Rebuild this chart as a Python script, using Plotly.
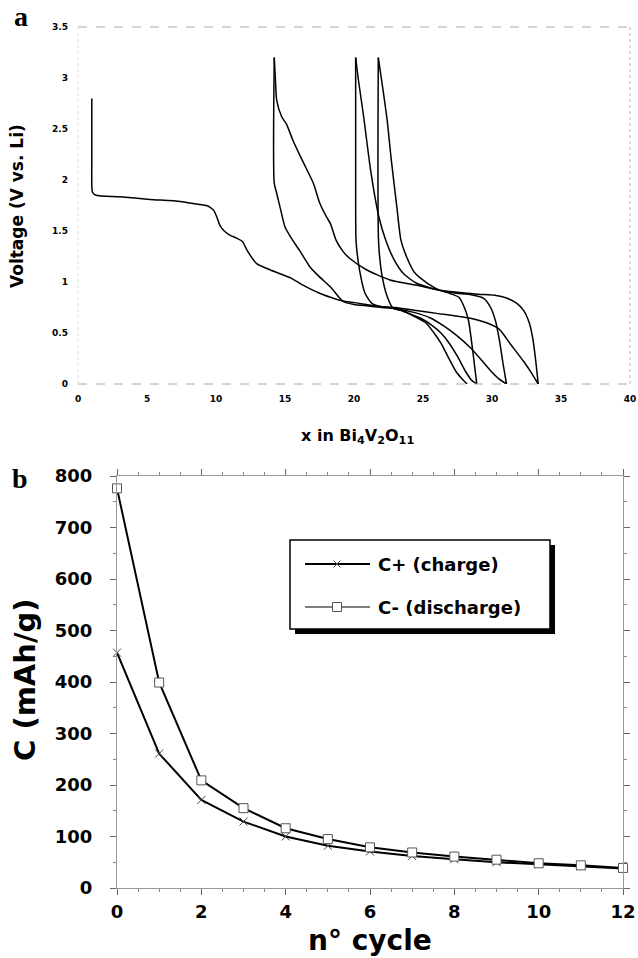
import plotly.graph_objects as go

W, H = 638, 958

# ---------------- Panel a: voltage profiles (x in Bi4V2O11 vs V) ----------------
d1_x = [1.0, 1.0, 1.0, 1.05, 1.3, 3.0, 5.2, 7.4, 8.8, 9.3, 9.6, 9.85, 10.05, 10.3, 10.6,
        11.0, 11.5, 11.9, 12.3, 12.95, 13.9, 15.4, 16.3, 17.5, 18.3, 19.0, 20.4, 21.9,
        23.0, 24.5, 26.1, 27.5, 28.6, 29.6, 30.5, 31.4, 32.3, 32.9, 33.35]
d1_v = [2.80, 2.2, 1.95, 1.88, 1.85, 1.835, 1.81, 1.79, 1.76, 1.75, 1.73, 1.70, 1.64, 1.55, 1.50,
        1.46, 1.43, 1.40, 1.30, 1.18, 1.12, 1.04, 0.97, 0.89, 0.85, 0.82, 0.79, 0.76,
        0.75, 0.72, 0.69, 0.665, 0.64, 0.60, 0.54, 0.38, 0.22, 0.10, 0.0]

c1_x = [33.35, 33.15, 32.95, 32.7, 32.3, 31.8, 31.1, 30.2, 29.0, 27.5, 26.2, 24.5, 22.6,
        20.9, 19.7, 19.2, 18.7, 18.3, 18.0, 17.5, 17.05, 16.3, 15.6, 15.1, 14.76, 14.4, 14.3, 14.22]
c1_v = [0.0, 0.25, 0.45, 0.60, 0.72, 0.79, 0.84, 0.87, 0.88, 0.90, 0.92, 0.97, 1.02,
        1.12, 1.23, 1.30, 1.41, 1.57, 1.64, 1.78, 1.97, 2.18, 2.38, 2.55, 2.62, 2.78, 3.0, 3.2]

d2_x = [14.22, 14.22, 14.4, 14.7, 15.0, 15.6, 16.1, 16.8, 17.5, 18.3, 19.2, 20.0, 21.0, 22.0,
        23.0, 24.4, 25.5, 26.5, 27.5, 28.4, 29.2, 29.9, 30.5, 31.05]
d2_v = [3.2, 1.97, 1.87, 1.70, 1.54, 1.40, 1.30, 1.15, 1.05, 0.95, 0.81, 0.78, 0.765, 0.75,
        0.74, 0.70, 0.65, 0.57, 0.47, 0.36, 0.24, 0.13, 0.05, 0.0]

c2_x = [31.05, 30.8, 30.55, 30.25, 29.9, 29.4, 28.5, 27.4, 26.5, 25.6, 24.5, 23.6, 22.9,
        22.3, 21.8, 21.2, 20.7, 20.3, 20.12]
c2_v = [0.0, 0.20, 0.42, 0.62, 0.75, 0.84, 0.875, 0.89, 0.91, 0.94, 0.99, 1.08, 1.22,
        1.41, 1.64, 2.10, 2.62, 3.0, 3.2]

d3_x = [20.12, 20.12, 20.15, 20.4, 20.8, 21.3, 21.9, 23.0, 24.0, 24.9, 25.6, 26.3, 26.9,
        27.5, 28.1, 28.5, 28.9]
d3_v = [3.2, 1.8, 1.4, 1.12, 0.89, 0.79, 0.76, 0.74, 0.69, 0.64, 0.58, 0.50, 0.40,
        0.27, 0.12, 0.04, 0.0]

c3_x = [28.9, 28.6, 28.3, 28.0, 27.6, 27.0, 26.2, 25.3, 24.4, 23.8, 23.4, 23.1, 22.7,
        22.4, 22.0, 21.76]
c3_v = [0.0, 0.33, 0.62, 0.75, 0.85, 0.885, 0.92, 0.99, 1.09, 1.25, 1.41, 1.74, 2.20,
        2.59, 2.98, 3.2]

d4_x = [21.76, 21.78, 22.0, 22.4, 22.85, 23.5, 24.4, 25.2, 25.8, 26.3, 26.8, 27.4, 27.9, 28.2]
d4_v = [3.2, 1.4, 1.09, 0.86, 0.74, 0.72, 0.66, 0.60, 0.50, 0.40, 0.27, 0.12, 0.04, 0.0]

curves = [(d1_x, d1_v), (c1_x, c1_v), (d2_x, d2_v), (c2_x, c2_v),
          (d3_x, d3_v), (c3_x, c3_v), (d4_x, d4_v)]

# ---------------- Panel b: capacity vs cycle ----------------
cycles = list(range(13))
c_plus = [457, 261, 171, 129, 100, 82, 71, 62, 56, 50, 46, 42, 38]
c_minus = [776, 399, 209, 155, 116, 95, 79, 69, 61, 55, 48, 44, 39]

legend_labels = ["C+ (charge)", "C- (discharge)"]

fig = go.Figure()

for cx, cv in curves:
    fig.add_trace(go.Scatter(x=cx, y=cv, mode="lines", xaxis="x", yaxis="y",
                             line=dict(color="black", width=1.5, shape="spline", smoothing=0.6),
                             showlegend=False, hoverinfo="skip"))

fig.add_trace(go.Scatter(x=cycles, y=c_plus, mode="lines+markers", xaxis="x2", yaxis="y2",
                         name=legend_labels[0], cliponaxis=False,
                         line=dict(color="black", width=2),
                         marker=dict(symbol="x-thin-open", size=8, color="#444",
                                     line=dict(color="#444", width=1)),
                         showlegend=False))
fig.add_trace(go.Scatter(x=cycles, y=c_minus, mode="lines+markers", xaxis="x2", yaxis="y2",
                         name=legend_labels[1], cliponaxis=False,
                         line=dict(color="black", width=2),
                         marker=dict(symbol="square", size=9, color="white",
                                     line=dict(color="#555", width=1)),
                         showlegend=False))


def fx(p):
    return p / W


def fy(p):
    return 1 - p / H


sans = "DejaVu Sans"
tick_a = dict(family=sans, size=9, color="black", weight="bold")
tick_b = dict(family=sans, size=18, color="black", weight="bold")

common_b = dict(showgrid=False, zeroline=False, showline=True, linecolor="#999", linewidth=1,
                mirror="allticks", ticks="outside", ticklen=6, tickcolor="#666", tickwidth=1,
                tickfont=tick_b, automargin=False, layer="above traces")

fig.update_layout(
    width=W, height=H,
    autosize=False,
    margin=dict(l=0, r=0, t=0, b=0, pad=0, autoexpand=False),
    paper_bgcolor="white", plot_bgcolor="white",
    showlegend=False,
    xaxis=dict(domain=[fx(78), fx(630)], range=[0, 40], dtick=5, tick0=0,
               showgrid=False, zeroline=False, showline=False, ticks="",
               tickfont=tick_a, ticklabelstandoff=8, anchor="y", automargin=False),
    yaxis=dict(domain=[fy(384), fy(27)], range=[0, 3.5], dtick=0.5, tick0=0,
               showgrid=False, zeroline=False, showline=False, ticks="",
               tickfont=tick_a, ticklabelstandoff=9, anchor="x", automargin=False),
    xaxis2=dict(domain=[fx(117), fx(623)], range=[0, 12], dtick=2, tick0=0,
                minor=dict(dtick=0.5, ticks="outside", ticklen=3, tickcolor="#888", tickwidth=1),
                ticklabelstandoff=1, anchor="y2", **common_b),
    yaxis2=dict(domain=[fy(888), fy(476)], range=[0, 800], dtick=100, tick0=0,
                minor=dict(dtick=50, ticks="outside", ticklen=3, tickcolor="#888", tickwidth=1),
                ticklabelstandoff=14, anchor="x2", **common_b),
)

shapes = []
# faded frame of panel a
for (x0, y0, x1, y1, dash, col) in [
    (0, 1, 1, 1, "dash", "#aaa"), (0, 0, 1, 0, "dash", "#aaa"),
    (1, 0, 1, 1, "dot", "#bbb"), (0, 0, 0, 1, "dot", "#ddd")]:
    shapes.append(dict(type="line", xref="x domain", yref="y domain", x0=x0, y0=y0, x1=x1, y1=y1,
                       line=dict(color=col, width=1, dash=dash)))

# legend box of panel b (with drop shadow)
bx0, bx1, by0, by1 = 290, 550, 540, 629
shapes.append(dict(type="rect", xref="paper", yref="paper", x0=fx(bx0 + 5), x1=fx(bx1 + 5),
                   y0=fy(by1 + 5), y1=fy(by0 + 5), fillcolor="black", line=dict(width=0)))
shapes.append(dict(type="rect", xref="paper", yref="paper", x0=fx(bx0), x1=fx(bx1),
                   y0=fy(by1), y1=fy(by0), fillcolor="white", line=dict(color="black", width=1.5)))
ly1, ly2 = 564, 607
shapes.append(dict(type="line", xref="paper", yref="paper", x0=fx(305), x1=fx(370),
                   y0=fy(ly1), y1=fy(ly1), line=dict(color="black", width=2)))
shapes.append(dict(type="line", xref="paper", yref="paper", x0=fx(305), x1=fx(370),
                   y0=fy(ly2), y1=fy(ly2), line=dict(color="#555", width=1.5)))
mx = 337
for s in (-1, 1):
    shapes.append(dict(type="line", xref="paper", yref="paper", x0=fx(mx - 3.5), x1=fx(mx + 3.5),
                       y0=fy(ly1 - 3.5 * s), y1=fy(ly1 + 3.5 * s), line=dict(color="#444", width=1)))
shapes.append(dict(type="rect", xref="paper", yref="paper", x0=fx(mx - 4.5), x1=fx(mx + 4.5),
                   y0=fy(ly2 + 4.5), y1=fy(ly2 - 4.5), fillcolor="white", line=dict(color="#555", width=1)))
fig.update_layout(shapes=shapes)

serif = "Liberation Serif"
ann = [
    dict(text="a", x=fx(21), y=fy(17), font=dict(family=serif, size=28, color="black", weight="bold")),
    dict(text="b", x=fx(20), y=fy(478), font=dict(family=serif, size=28, color="black", weight="bold")),
    dict(text="Voltage (V vs. Li)", x=fx(17), y=fy(206), textangle=-90,
         font=dict(family=sans, size=17, color="black", weight="bold")),
    dict(text="x in Bi<sub>4</sub>V<sub>2</sub>O<sub>11</sub>", x=fx(357), y=fy(436),
         font=dict(family=sans, size=16, color="black", weight="bold")),
    dict(text="C (mAh/g)", x=fx(25), y=fy(680), textangle=-90,
         font=dict(family=sans, size=29, color="black", weight="bold")),
    dict(text="n° cycle", x=fx(370), y=fy(940),
         font=dict(family=sans, size=28, color="black", weight="bold")),
    dict(text=legend_labels[0], x=fx(376), y=fy(ly1), xanchor="left",
         font=dict(family=sans, size=18, color="black", weight="bold")),
    dict(text=legend_labels[1], x=fx(376), y=fy(ly2), xanchor="left",
         font=dict(family=sans, size=18, color="black", weight="bold")),
]
for a in ann:
    a.setdefault("xanchor", "center")
    a.update(xref="paper", yref="paper", yanchor="middle", showarrow=False)
fig.update_layout(annotations=ann)

fig.write_html("out.html")
